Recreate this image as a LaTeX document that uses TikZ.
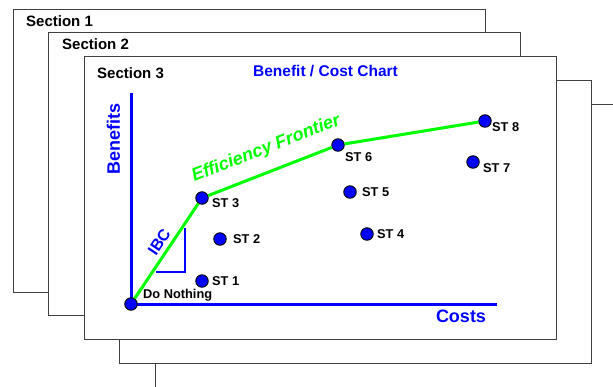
\documentclass[tikz,border=0pt]{standalone}
\usepackage{fontspec}
\setmainfont{Liberation Sans}
\usepackage{xcolor}
\usetikzlibrary{positioning}

\definecolor{chartblue}{RGB}{0,0,255}
\definecolor{frontgreen}{RGB}{0,255,0}

\tikzset{
  sheet/.style={draw=black!75,line width=1pt,fill=white},
  sectlabel/.style={anchor=west,inner sep=0pt,font=\fontsize{15}{18}\selectfont\bfseries},
  option/.style={circle,draw=black,line width=0.9pt,fill=chartblue,minimum size=12.5pt,inner sep=0pt},
  optlabel/.style={anchor=west,inner sep=0pt,font=\fontsize{12.8}{15}\selectfont\bfseries},
  axis/.style={chartblue,line width=3pt},
  frontier/.style={frontgreen,line width=3pt},
  axlabel/.style={chartblue,inner sep=0pt,font=\fontsize{18}{21}\selectfont\bfseries},
}

\begin{document}
\begin{tikzpicture}[x=1pt,y=-1pt]
  \useasboundingbox (0,0) rectangle (613,386);
  \clip (0,0) rectangle (613,386);

  % stacked sheets, back ones first
  \foreach \i in {4,3,0,1,2}
    \draw[sheet] ({13+35.5*\i},{9+23.75*\i}) rectangle +(472,283);
  \node[sectlabel] (sec1) at (26,21) {Section 1};
  \node[sectlabel] (sec2) at (62,44.5) {Section 2};
  \node[sectlabel] (sec3) at (97,73) {Section 3};
  \node[chartblue,inner sep=0pt,font=\fontsize{15.5}{18}\selectfont\bfseries] (title) at (325.5,71) {Benefit / Cost Chart};

  % axes
  \coordinate (ytop) at (131,93);
  \coordinate (orig) at (131,304);
  \coordinate (xend) at (497,304);
  \draw[axis] (ytop) -- (orig) -- (xend);
  \node[axlabel,rotate=90] (benefits) at (113.5,139) {Benefits};
  \node[axlabel] (costs) at (461,316) {Costs};

  % incremental benefit/cost marker
  \draw[chartblue,line width=1.7pt] (156,272) -| (185,228);

  % options
  \node[option] (none) at (131,304) {};
  \node[option] (st1) at (202,281) {};
  \node[option] (st2) at (220,239) {};
  \node[option] (st3) at (202,198) {};
  \node[option] (st4) at (367,234) {};
  \node[option] (st5) at (350,192) {};
  \node[option] (st6) at (338,145) {};
  \node[option] (st7) at (473,162) {};
  \node[option] (st8) at (485,121) {};

  \node[optlabel] (none-l) at ([shift={(12,-9)}]none) {Do Nothing};
  \node[optlabel] (st1-l) at ([shift={(10,0)}]st1) {ST 1};
  \node[optlabel] (st2-l) at ([shift={(13,0)}]st2) {ST 2};
  \node[optlabel] (st3-l) at ([shift={(10,5)}]st3) {ST 3};
  \node[optlabel] (st4-l) at ([shift={(10,0)}]st4) {ST 4};
  \node[optlabel] (st5-l) at ([shift={(12,0)}]st5) {ST 5};
  \node[optlabel] (st6-l) at ([shift={(7,12)}]st6) {ST 6};
  \node[optlabel] (st7-l) at ([shift={(10,6)}]st7) {ST 7};
  \node[optlabel] (st8-l) at ([shift={(7,6)}]st8) {ST 8};

  % efficiency frontier
  \draw[frontier] (none) --
      node[pos=0.53,sloped,above=4pt,inner sep=0pt,chartblue,font=\fontsize{16}{19}\selectfont\bfseries] (ibc) {IBC}
    (st3) --
      node[pos=0.535,sloped,above=12.5pt,inner sep=0pt,frontgreen,font=\fontsize{18}{21}\selectfont\bfseries\itshape] (eff) {Efficiency Frontier}
    (st6) -- (st8);
\end{tikzpicture}
\end{document}
